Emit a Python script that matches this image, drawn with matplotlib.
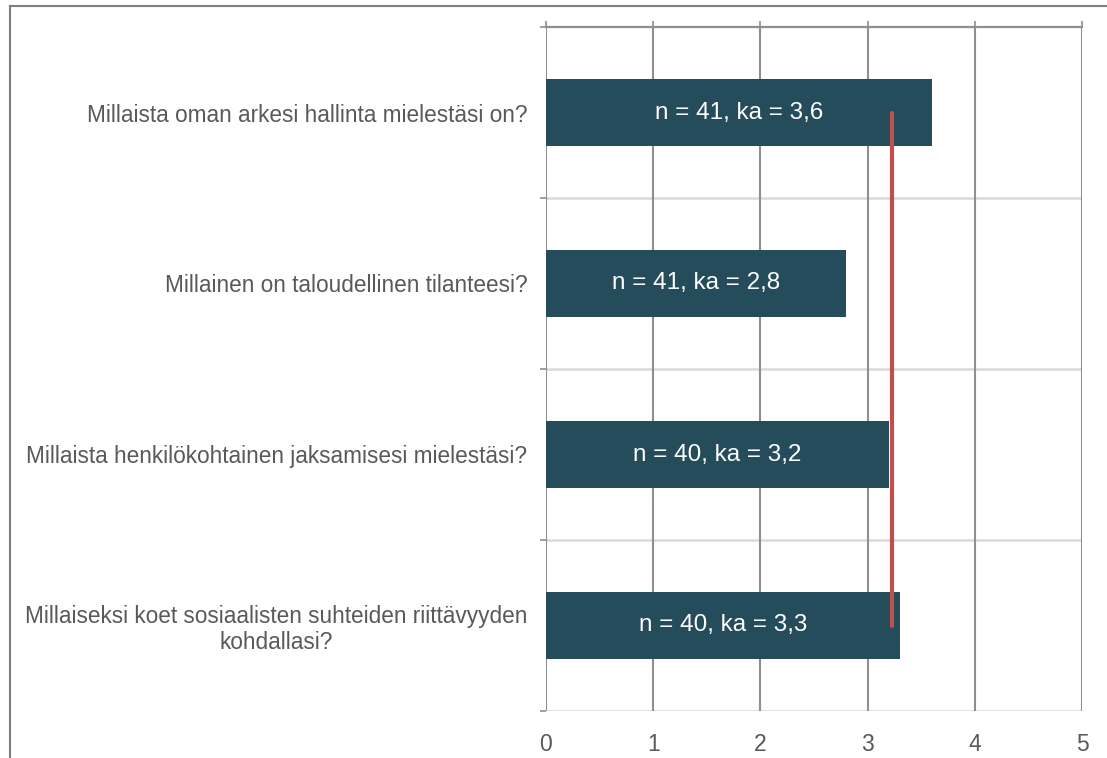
import matplotlib
matplotlib.use("Agg")
import matplotlib.pyplot as plt
from matplotlib.lines import Line2D
import numpy as np

plt.rcParams['font.family'] = ['Liberation Sans', 'DejaVu Sans']

# Survey questions (top to bottom), respondents and mean scores
questions = [
    "Millaista oman arkesi hallinta mielestäsi on?",
    "Millainen on taloudellinen tilanteesi?",
    "Millaista henkilökohtainen jaksamisesi mielestäsi?",
    "Millaiseksi koet sosiaalisten suhteiden riittävyyden\nkohdallasi?",
]
n_resp = [41, 41, 40, 40]
means = [3.6, 2.8, 3.2, 3.3]
x_ticks = [0, 1, 2, 3, 4, 5]

W, H, DPI = 1107, 758, 100
fig = plt.figure(figsize=(W / DPI, H / DPI), dpi=DPI)
fig.patch.set_facecolor("white")

# plot area in pixel coordinates
left, right, top, bottom = 546, 1082, 27, 711
ax = fig.add_axes([left / W, (H - bottom) / H, (right - left) / W, (bottom - top) / H])

bar_col = "#244C5A"
grid_dark = "#8F8F8F"
grid_light = "#D9D9D9"
text_col = "#595959"
red = "#C0504D"

y = np.arange(len(questions))
ax.set_xlim(0, 5)
ax.set_ylim(len(questions) - 0.5, -0.5)

for s in ax.spines.values():
    s.set_visible(False)

# category separators
for b in np.arange(0.5, len(questions) + 0.5, 1.0):
    ax.axhline(b, color=grid_light, lw=1.8, zorder=0.5)
# top axis line
ax.axhline(-0.5, color=grid_dark, lw=1.6, zorder=0.6, clip_on=False)
# vertical gridlines
for xv in x_ticks:
    ax.axvline(xv, color=grid_dark, lw=1.5, zorder=0.7)

bars = ax.barh(y, means, height=0.39, color=bar_col, zorder=2)

for yi, m, n in zip(y, means, n_resp):
    ax.text(m / 2, yi, f"n = {n}, ka = {str(m).replace('.', ',')}",
            ha="center", va="center", color="white", fontsize=17.5, zorder=4)

# overall mean line
overall = float(np.mean(means))
ax.plot([overall, overall], [y[0], y[-1]], color=red, lw=3.0,
        solid_capstyle="round", zorder=3)

# x ticks: labels at bottom, small marks crossing the top
ax.set_xticks(x_ticks)
ax.set_xticklabels([str(t) for t in x_ticks])
ax.tick_params(axis="x", which="major", bottom=False, top=True, labelbottom=True,
               labeltop=False, direction="out", length=4.5, width=1.2,
               color=grid_dark, labelsize=16.5, labelcolor=text_col, pad=11)

# y: labels on category centers, ticks on boundaries
ax.set_yticks(y)
ax.set_yticklabels(questions, multialignment="center", linespacing=1.15)
ax.set_yticks(np.arange(-0.5, len(questions), 1.0), minor=True)
ax.tick_params(axis="y", which="major", length=0, labelsize=16.3,
               labelcolor=text_col, pad=13.5)
ax.tick_params(axis="y", which="minor", length=4.5, width=1.2,
               color=grid_dark, direction="out")

# outer frame (top and left edges)
fig.add_artist(Line2D([10 / W, 1.0], [(H - 6) / H, (H - 6) / H],
                      transform=fig.transFigure, color="#7F7F7F", lw=1.5))
fig.add_artist(Line2D([10 / W, 10 / W], [(H - 6) / H, 0.0],
                      transform=fig.transFigure, color="#7F7F7F", lw=1.5))

fig.savefig("out.png", dpi=DPI)
